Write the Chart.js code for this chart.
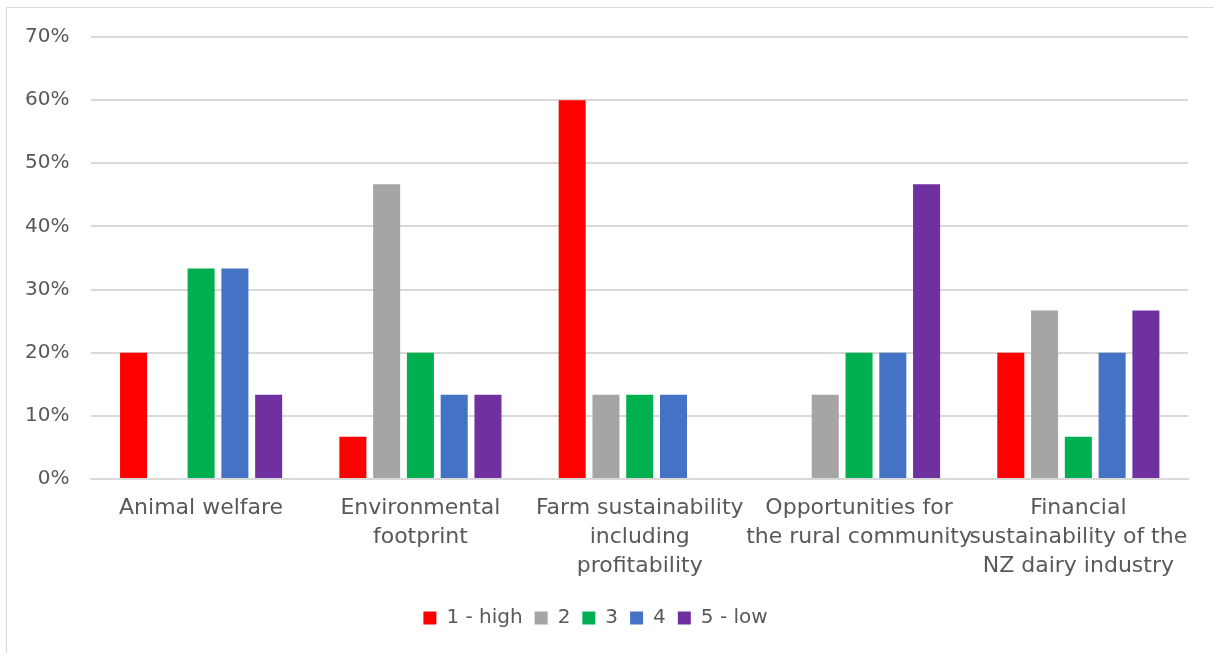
<!DOCTYPE html>
<html>
<head>
<meta charset="utf-8">
<script src="https://cdn.jsdelivr.net/npm/chart.js@4"></script>
<style>
  html, body { margin: 0; padding: 0; background: #fff; }
  #frame {
    position: absolute; left: 6px; top: 7px; width: 1230px; height: 660px;
    border: 1px solid #d9d9d9; box-sizing: border-box;
  }
  #wrap { position: absolute; left: 0; top: 0; width: 1214px; height: 653px; }
</style>
</head>
<body>
<div id="frame"></div>
<div id="wrap"><canvas id="chart" width="1214" height="653"></canvas></div>
<script>
const categories = [
    ["Animal welfare"],
    ["Environmental", "footprint"],
    ["Farm sustainability", "including", "profitability"],
    ["Opportunities for", "the rural community"],
    ["Financial", "sustainability of the", "NZ dairy industry"]
];
const seriesNames = ["1 - high", "2", "3", "4", "5 - low"];
const seriesColors = ["#FF0000", "#A5A5A5", "#00B050", "#4472C4", "#7030A0"];

// percent values per rating, in category order
const high1 = [20, 6.67, 60, 0, 20];
const rate2 = [0, 46.67, 13.33, 13.33, 26.67];
const rate3 = [33.33, 20, 13.33, 20, 6.67];
const rate4 = [33.33, 13.33, 13.33, 20, 20];
const low5 = [13.33, 13.33, 0, 46.67, 26.67];

const seriesValues = [high1, rate2, rate3, rate4, low5];
const fontFamily = "'DejaVu Sans', sans-serif";

const ctx = document.getElementById("chart").getContext("2d");
new Chart(ctx, {
    type: "bar",
    data: {
        labels: categories,
        datasets: seriesNames.map((name, i) => ({
            label: name,
            data: seriesValues[i],
            backgroundColor: seriesColors[i],
            borderWidth: 0,
            barPercentage: 0.8,
            categoryPercentage: 0.77
        }))
    },
    options: {
        responsive: false,
        animation: false,
        layout: { padding: { left: 3, right: 26, top: 37, bottom: 15 } },
        plugins: {
            tooltip: { enabled: false },
            legend: {
                position: "bottom",
                labels: {
                    boxWidth: 13,
                    boxHeight: 13,
                    padding: 12,
                    color: "#595959",
                    font: { family: fontFamily, size: 20 }
                }
            }
        },
        scales: {
            x: {
                grid: { display: false, drawTicks: false },
                border: { color: "#d9d9d9", width: 2 },
                ticks: {
                    color: "#595959",
                    padding: 15,
                    maxRotation: 0,
                    autoSkip: false,
                    font: { family: fontFamily, size: 22, lineHeight: 1.32 }
                }
            },
            y: {
                min: 0,
                max: 70,
                grid: { color: "#d9d9d9", lineWidth: 2, drawTicks: false },
                border: { display: false },
                ticks: {
                    stepSize: 10,
                    padding: 22,
                    color: "#595959",
                    font: { family: fontFamily, size: 20 },
                    callback: v => v + "%"
                }
            }
        }
    }
});
</script>
</body>
</html>
